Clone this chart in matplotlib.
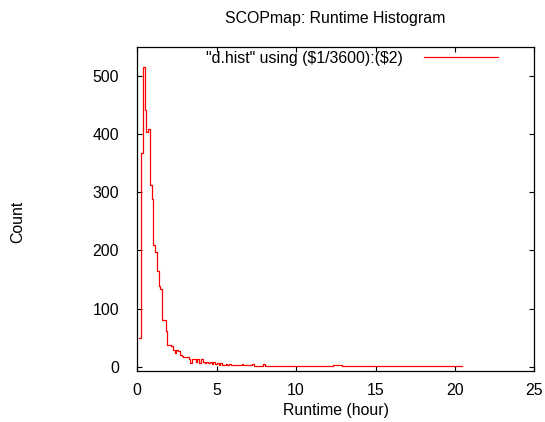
import matplotlib
matplotlib.use("Agg")
import matplotlib.pyplot as plt

plt.rcParams['font.family'] = ['Liberation Sans', 'DejaVu Sans']

# Histogram points (runtime in hours, count) as plotted with gnuplot "steps"
runtime_hours = [
    0.122, 0.233, 0.344, 0.456, 0.567, 0.678, 0.789, 0.900, 1.011, 1.122,
    1.233, 1.344, 1.456, 1.567, 1.678, 1.789, 1.900, 2.011, 2.122, 2.233,
    2.344, 2.456, 2.567, 2.678, 2.789, 2.900, 3.011, 3.122, 3.233, 3.344,
    3.456, 3.567, 3.678, 3.789, 3.900, 4.011, 4.122, 4.233, 4.344, 4.456,
    4.567, 4.678, 4.789, 4.900, 5.011, 5.122, 5.233, 5.344, 5.456, 5.567,
    5.678, 5.789, 5.900, 6.011, 6.233, 6.344, 6.567, 6.678, 7.233, 7.344,
    7.900, 8.011, 12.344, 12.900, 20.45,
]
counts = [
    49, 368, 516, 442, 404, 408, 312, 288, 210, 198,
    165, 139, 133, 81, 81, 61, 37, 37, 36, 29,
    24, 29, 27, 21, 19, 17, 17, 17, 14, 7,
    14, 14, 8, 13, 6, 13, 9, 6, 9, 6,
    8, 5, 9, 5, 6, 4, 6, 4, 3, 5,
    3, 5, 3, 3, 4, 3, 5, 3, 5, 2,
    5, 2, 4, 2, 2,
]

title = "SCOPmap: Runtime Histogram"
series_label = '"d.hist" using (\\$1/3600):(\\$2)'
x_label = "Runtime (hour)"
y_label = "Count"
x_ticks = [0, 5, 10, 15, 20, 25]
y_ticks = [0, 100, 200, 300, 400, 500]

FS = 11.4
W, H = 545, 422
fig = plt.figure(figsize=(W / 100, H / 100), dpi=100)
left, right, top, bottom = 137.3, 534.3, 47.3, 371.0
ax = fig.add_axes([left / W, 1 - bottom / H, (right - left) / W, (bottom - top) / H])

line, = ax.plot(runtime_hours, counts, drawstyle='steps-post', color='#ff0000', lw=0.9)

ax.set_xlim(0, 25)
ax.set_ylim(-7, 549)
ax.set_xticks(x_ticks)
ax.set_yticks(y_ticks)
ax.tick_params(direction='in', length=3.5, width=0.8, top=True, right=True,
               labelsize=FS, colors='black')
ax.tick_params(axis='y', pad=13)
ax.tick_params(axis='x', pad=8.5)
for s in ax.spines.values():
    s.set_linewidth(0.9)
    s.set_color('black')

fig.text(335 / W, 1 - 18 / H, title, ha='center', va='center', fontsize=FS)
fig.text(335.8 / W, 1 - 411 / H, x_label, ha='center', va='center', fontsize=FS)
fig.text(18 / W, 1 - 222 / H, y_label, ha='center', va='center', rotation=90, fontsize=FS)

ax.legend([line], [series_label], loc='center right',
          bbox_to_anchor=(498 / W, 1 - 58 / H), bbox_transform=fig.transFigure,
          frameon=False, markerfirst=False, handlelength=4.7, handletextpad=1.3,
          borderpad=0, borderaxespad=0, fontsize=FS)

fig.savefig("out.png", dpi=100)
